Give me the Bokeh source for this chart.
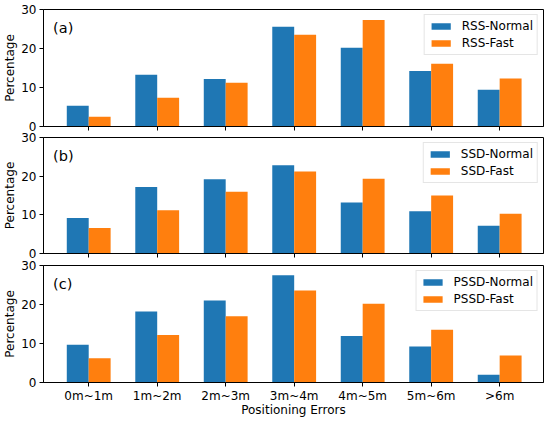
from bokeh.plotting import figure
from bokeh.layouts import column
from bokeh.models import ColumnDataSource, Range1d, FixedTicker, Label
from bokeh.transform import dodge
from bokeh.embed import file_html
from bokeh.resources import INLINE

categories = ["0m~1m", "1m~2m", "2m~3m", "3m~4m", "4m~5m", "5m~6m", ">6m"]
y_ticks = [0, 10, 20, 30]

rss_normal = [5.3, 13.3, 12.2, 25.6, 20.2, 14.2, 9.4]
rss_fast = [2.5, 7.4, 11.2, 23.5, 27.3, 16.1, 12.3]
ssd_normal = [9.2, 17.2, 19.2, 22.8, 13.2, 10.9, 7.2]
ssd_fast = [6.6, 11.2, 16.0, 21.2, 19.3, 15.0, 10.3]
pssd_normal = [9.7, 18.2, 21.0, 27.5, 11.9, 9.2, 2.0]
pssd_fast = [6.2, 12.2, 17.0, 23.6, 20.2, 13.5, 6.9]

panel_tags = ["(a)", "(b)", "(c)"]
method_names = ["RSS", "SSD", "PSSD"]
normal_series = [rss_normal, ssd_normal, pssd_normal]
fast_series = [rss_fast, ssd_fast, pssd_fast]

FONT = "DejaVu Sans"
BLUE = "#1f77b4"
ORANGE = "#ff7f0e"
BAR_W = 0.32
FS = "12px"

# layout per panel: (height, min_border_top, min_border_bottom, margin_top)
layouts = [(133, 9, 7, 0), (131, 8, 7, -4), (165, 8, 40, -3)]

xpos = list(range(len(categories)))
figs = []
for i in range(3):
    last = i == 2
    h, bt, bb, mt = layouts[i]
    p = figure(
        width=544,
        height=h,
        x_range=Range1d(-0.66, len(categories) - 1 + 0.64),
        y_range=Range1d(0, 30),
        output_backend="svg",
        toolbar_location=None,
        min_border_left=42,
        min_border_right=1,
        min_border_top=bt,
        min_border_bottom=bb,
        background_fill_color="white",
        border_fill_color="white",
        border_fill_alpha=1.0 if i == 0 else 0.0,
        margin=(mt, 0, 0, 0),
    )
    src = ColumnDataSource(dict(x=xpos, normal=normal_series[i], fast=fast_series[i]))
    p.vbar(x=dodge("x", -BAR_W / 2), top="normal", width=BAR_W, source=src,
           fill_color=BLUE, line_color=None, legend_label=f"{method_names[i]}-Normal")
    p.vbar(x=dodge("x", BAR_W / 2), top="fast", width=BAR_W, source=src,
           fill_color=ORANGE, line_color=None, legend_label=f"{method_names[i]}-Fast")

    p.grid.visible = False
    p.outline_line_color = "black"
    p.outline_line_width = 1

    for ax in (p.xaxis[0], p.yaxis[0]):
        ax.axis_line_color = "black"
        ax.major_tick_line_color = "black"
        ax.major_tick_out = 4
        ax.major_tick_in = 0
        ax.minor_tick_line_color = None
        ax.major_label_text_font = FONT
        ax.major_label_text_font_size = FS
        ax.major_label_text_color = "black"
        ax.axis_label_text_font = FONT
        ax.axis_label_text_font_size = FS
        ax.axis_label_text_font_style = "normal"
        ax.axis_label_text_color = "black"

    p.yaxis.ticker = FixedTicker(ticks=y_ticks)
    p.yaxis.axis_label = "Percentage"
    p.yaxis.major_label_standoff = 3
    p.yaxis.axis_label_standoff = 1

    p.xaxis.ticker = FixedTicker(ticks=xpos)
    p.xaxis.major_label_overrides = {k: c for k, c in zip(xpos, categories)}
    if last:
        p.xaxis.axis_label = "Positioning Errors"
        p.xaxis.major_label_standoff = 2
        p.xaxis.axis_label_standoff = -3
    else:
        p.xaxis.major_label_text_font_size = "0px"
        p.xaxis.major_label_text_color = None
        p.xaxis.major_label_standoff = 0

    p.add_layout(Label(x=-0.52, y=25.3, text=panel_tags[i], text_font=FONT,
                       text_font_size="14.5px", text_baseline="middle",
                       text_align="left", text_color="black"))

    lg = p.legend[0]
    lg.location = "top_right"
    lg.margin = 5
    lg.padding = 4
    lg.spacing = 3
    lg.glyph_width = 24
    lg.glyph_height = 8
    lg.label_height = 14
    lg.label_standoff = 9
    lg.label_text_font = FONT
    lg.label_text_font_size = FS
    lg.label_text_color = "black"
    lg.border_line_color = "#cccccc"
    lg.border_line_width = 1
    lg.background_fill_alpha = 0.8
    figs.append(p)

layout = column(*figs, spacing=0)
open("out.html", "w").write(file_html(layout, INLINE))
